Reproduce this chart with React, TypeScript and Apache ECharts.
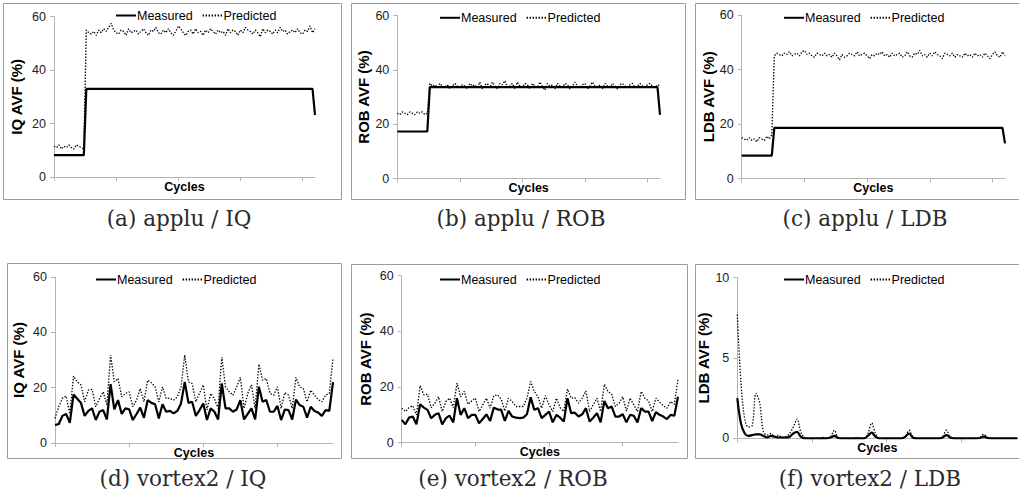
import React, { useEffect, useRef } from "react";
import * as echarts from "echarts";

// ---------- data ----------
const TOP_CYCLES = 106;
const BOTTOM_CYCLES = 76;
const SERIES_NAMES = ["Measured", "Predicted"];
const CAPTIONS = [
  "(a) applu / IQ",
  "(b) applu / ROB",
  "(c) applu / LDB",
  "(d) vortex2 / IQ",
  "(e) vortex2 / ROB",
  "(f) vortex2 / LDB",
];
const Y_NAMES = ["IQ AVF (%)", "ROB AVF (%)", "LDB AVF (%)", "IQ AVF (%)", "ROB AVF (%)", "LDB AVF (%)"];

// applu: measured is a step function, given as [cycle index, value] break points
const appluIQMeasured = [[0, 8.2], [12, 8.2], [13, 33], [104, 33], [105, 23.2]];
const appluIQPredicted = [
  11.5, 11, 12, 10.5, 11.5, 11, 12, 11, 10.5, 12, 11.5, 11, 10.5,
  55, 54, 53.5, 54.5, 53, 55, 54, 55.5, 54.5, 56, 57.5, 55, 54, 53.5, 55, 54.5, 53, 55.5, 54, 54.5,
  55, 53.5, 54.5, 55.5, 54, 53, 55, 54.5, 56, 54, 53.5, 55, 54, 55.5, 54, 53, 54.5, 56.5, 55.5, 54,
  53, 54.5, 55, 53.5, 55.5, 54, 54.5, 53, 55, 54, 55.5, 54.5, 53.5, 55, 54, 54.5, 53, 55.5, 54, 55,
  54.5, 53, 55, 54, 56, 55, 54.5, 53.5, 55, 54, 52.5, 55.5, 54, 55, 54.5, 53.5, 55, 54, 56, 54.5,
  55, 53.5, 54.5, 55, 54, 55.5, 54, 53.5, 55, 54.5, 56.5, 54, 55.5,
];
const appluROBMeasured = [[0, 17.3], [12, 17.3], [13, 33.6], [104, 33.6], [105, 23.4]];
const appluROBPredicted = [
  24, 23.5, 24.5, 24, 23.5, 24.5, 24, 23.5, 24.5, 24, 24.5, 23.5, 24,
  35, 34, 34.5, 33.5, 35, 34, 33.5, 34.5, 33, 34, 35, 34, 33.5, 34.5, 34, 33, 35, 34, 34.5, 33.5,
  35.5, 33, 34.5, 35, 33.5, 35.5, 34, 33, 35, 34.5, 36, 33.5, 34, 35, 33, 35.5, 34, 33.5, 35, 34.5,
  33, 35, 34, 33.5, 35.5, 34, 32.5, 35, 34, 34.5, 33, 35, 34, 33.5, 35, 34.5, 33, 34, 35.5, 34,
  33.5, 34.5, 35, 33, 34, 35.5, 34, 33.5, 34.5, 33, 35, 34, 33.5, 35, 34, 33, 34.5, 35, 34, 33.5,
  34.5, 35, 33.5, 34, 35, 34, 33.5, 34.5, 35, 34, 33.5, 34.5, 34,
];
const appluLDBMeasured = [[0, 8.4], [12, 8.4], [13, 18.6], [104, 18.6], [105, 12.9]];
const appluLDBPredicted = [
  15, 14.5, 14, 15, 14, 14.5, 13.5, 15, 14.5, 14, 15.5, 14.5, 16,
  45, 46, 45.5, 45, 46, 45.5, 46.5, 45, 45.5, 46, 45, 46.5, 47, 45.5, 46, 45, 44.5, 46, 45.5, 45,
  46, 45, 45.5, 44.5, 46, 45, 43.5, 45.5, 44.5, 45, 46, 45.5, 45, 46.5, 45, 45.5, 46, 45, 44, 45.5,
  45, 46, 45.5, 46.5, 45, 45.5, 44.5, 46, 45, 45.5, 46, 44.5, 45, 46.5, 45, 44.5, 46, 45.5, 47, 45,
  45.5, 44.5, 46, 45, 46.5, 45.5, 45, 44, 46, 45.5, 45, 46, 44.5, 45.5, 45, 44.5, 46, 45, 45.5, 44.5,
  46, 45, 45.5, 44.5, 46, 45, 44, 45.5, 46.5, 45, 44.5, 46.5, 45,
];

// vortex2
const vortexIQMeasured = [
  6.5, 6.8, 9.8, 10.5, 7.3, 17.5, 16, 14.5, 9.8, 11.6,
  12.5, 8.3, 11.3, 11.9, 8.5, 21.3, 12.2, 15.5, 10.5, 12.5,
  12.2, 8.3, 10.5, 12.8, 9.1, 15.5, 14.5, 14, 8.9, 14,
  11.3, 11.6, 10.7, 11.6, 14.3, 22.1, 14.5, 14.9, 9.8, 11.9,
  14.3, 8.3, 12.5, 11.3, 8.5, 21.5, 12.5, 12.5, 11.3, 12.1,
  15.5, 8.5, 10.5, 12.5, 8.5, 20.3, 14.9, 15.5, 11.3, 11.3,
  13.4, 8.3, 12.1, 11.9, 8.5, 15.7, 13.7, 13.1, 9.2, 13.1,
  11.6, 11, 9.8, 11.9, 11.6, 22,
];
const vortexIQPredicted = [
  8.9, 13.1, 16.2, 17, 10.5, 24.2, 22.1, 21, 14.9, 19.1,
  19.4, 13.1, 16.1, 18.5, 13.7, 31.8, 22.1, 23.3, 16.7, 17.9,
  18.5, 13.1, 15.5, 19.7, 14.9, 22.7, 21.8, 20.3, 14.9, 20.3,
  16.1, 16.1, 15.5, 16.7, 20.3, 31.8, 22.1, 21.5, 14.9, 18,
  21, 12, 17.9, 16, 12.5, 31, 20.3, 18.5, 17.3, 20.3,
  23.7, 12.5, 17.9, 21, 12.5, 28.5, 22.7, 23.3, 17.9, 17.3,
  20.3, 12.5, 18.2, 17.3, 12.5, 23.7, 20.3, 19.7, 14.9, 19.1,
  17.3, 15.7, 14.9, 17.3, 17.9, 30.8,
];
const vortexROBMeasured = [
  8.2, 6.6, 9.0, 9.4, 6.6, 13.8, 12.6, 11.8, 8.8, 10,
  10.6, 6.6, 8.8, 9.7, 7.3, 16, 10, 12.4, 8.8, 10,
  10, 7, 8.5, 10.2, 7.8, 12.6, 12, 11.8, 7.8, 11.4,
  9.4, 9, 8.8, 9, 10.2, 16.3, 11.8, 12.4, 8.8, 10,
  11.2, 7.3, 10, 9, 7.6, 16, 10.6, 10.8, 9.4, 10.2,
  12.4, 7.6, 9, 10.6, 7.3, 15, 12.4, 13, 9.4, 9.4,
  10.2, 7.3, 10, 9.7, 7.3, 12.4, 11.2, 11.2, 7.8, 11,
  10, 9.4, 8.5, 10, 9.7, 16.5,
];
const vortexROBPredicted = [
  12.4, 11.2, 12.6, 13.3, 10, 20.5, 17.2, 17.4, 12.6, 14.2,
  16.5, 11.2, 14.8, 16, 12.6, 21.4, 16.5, 18.4, 13.8, 15,
  16, 11.2, 13.6, 16, 12.4, 16.9, 17.2, 15.7, 11.4, 16,
  14.8, 13, 13, 13, 16, 22, 18.4, 16.5, 12.4, 16.9,
  13.6, 11.2, 16, 12.6, 11.2, 19.3, 16, 16.2, 14.2, 16,
  18.6, 11.2, 13.6, 16, 11.2, 21, 18.4, 17.4, 13, 14.2,
  16.5, 11.4, 16, 13.6, 11.2, 18.4, 16, 15, 11.2, 16,
  14.6, 13.3, 12.4, 14.8, 13.8, 23,
];
const vortexLDBMeasured = [
  2.5, 0.9, 0.3, 0.15, 0.2, 0.25, 0.25, 0.15, 0.05, 0.15,
  0.1, 0.05, 0.05, 0.05, 0.1, 0.3, 0.4, 0.1, 0, 0,
  0, 0, 0, 0, 0, 0.05, 0.15, 0.02, 0, 0,
  0, 0, 0, 0, 0, 0.15, 0.35, 0.1, 0, 0,
  0, 0, 0, 0, 0, 0.1, 0.3, 0.05, 0, 0,
  0, 0, 0, 0, 0, 0.05, 0.2, 0.05, 0, 0,
  0, 0, 0, 0, 0, 0.02, 0.1, 0.02, 0, 0,
  0, 0, 0, 0, 0, 0,
];
const vortexLDBPredicted = [
  7.7, 3.4, 1.2, 0.7, 0.8, 2.8, 2.2, 0.4, 0.2, 0.3,
  0.1, 0.2, 0.05, 0.1, 0.3, 0.7, 1.2, 0.4, 0.05, 0,
  0, 0, 0, 0.05, 0, 0.1, 0.5, 0.05, 0, 0,
  0, 0, 0.05, 0, 0, 0.3, 0.95, 0.3, 0, 0,
  0, 0, 0, 0, 0, 0.1, 0.5, 0.1, 0, 0,
  0, 0, 0, 0, 0, 0.1, 0.5, 0.1, 0, 0,
  0, 0, 0, 0, 0, 0.05, 0.25, 0.05, 0, 0,
  0, 0, 0, 0, 0, 0,
];

const Y_MAX = [60, 60, 60, 60, 60, 10];
const Y_INTERVAL = [20, 20, 20, 20, 20, 5];

// ---------- layout ----------
const FONT = "'Liberation Sans', Arial, Helvetica, sans-serif";
const AXIS_GRAY = "#b4b4b4";

const GRIDS = [
  { left: 54, top: 16.7, width: 261, height: 160.3 },
  { left: 397.3, top: 15.5, width: 262.7, height: 163 },
  { left: 741.7, top: 15, width: 263.3, height: 163.5 },
  { left: 55, top: 277, width: 278, height: 166 },
  { left: 401.7, top: 275.7, width: 276.3, height: 167 },
  { left: 737.3, top: 277.7, width: 280, height: 160.6 },
];
const Y_NAME_GAPS = [30.5, 24, 25.5, 29.5, 28.5, 21];
const LEGENDS = [
  { left: 115, top: 9 },
  { left: 439, top: 11.3 },
  { left: 783, top: 11.3 },
  { left: 95, top: 273 },
  { left: 439, top: 273 },
  { left: 783, top: 273 },
];
const BOXES = [
  { x: 3.5, y: 3.5, width: 338, height: 196 },
  { x: 351.5, y: 3.5, width: 334, height: 196 },
  { x: 695.5, y: 3.5, width: 340, height: 196 },
  { x: 7.5, y: 263.5, width: 334, height: 195 },
  { x: 351.5, y: 264.5, width: 336, height: 194 },
  { x: 695.5, y: 264.5, width: 340, height: 194 },
];
const CAPTION_POS = [
  [179, 218], [521, 218], [865, 218],
  [183, 478], [513, 478], [870, 478],
];

const PANELS = [
  { measured: appluIQMeasured, predicted: appluIQPredicted, count: TOP_CYCLES, tick: 24, smooth: false },
  { measured: appluROBMeasured, predicted: appluROBPredicted, count: TOP_CYCLES, tick: 24, smooth: false },
  { measured: appluLDBMeasured, predicted: appluLDBPredicted, count: TOP_CYCLES, tick: 24, smooth: false },
  { measured: vortexIQMeasured, predicted: vortexIQPredicted, count: BOTTOM_CYCLES, tick: 19, smooth: false },
  { measured: vortexROBMeasured, predicted: vortexROBPredicted, count: BOTTOM_CYCLES, tick: 19, smooth: false },
  { measured: vortexLDBMeasured, predicted: vortexLDBPredicted, count: BOTTOM_CYCLES, tick: 19, smooth: 0.35 },
];

function cycleCategories(n: number) {
  return Array.from({ length: n }, (_, i) => String(i + 1));
}

function buildOption() {
  const series: any[] = [];
  PANELS.forEach((p, k) => {
    series.push({
      name: SERIES_NAMES[1],
      type: "line",
      xAxisIndex: k,
      yAxisIndex: k,
      data: p.predicted,
      symbol: "none",
      smooth: p.smooth,
      lineStyle: { color: "#000", width: 1.3, type: [1.4, 1.6] },
      itemStyle: { color: "#000" },
      z: 2,
    });
    series.push({
      name: SERIES_NAMES[0],
      type: "line",
      xAxisIndex: k,
      yAxisIndex: k,
      data: p.measured,
      symbol: "none",
      smooth: p.smooth,
      lineStyle: { color: "#000", width: 2.2, type: "solid" },
      itemStyle: { color: "#000" },
      z: 3,
    });
  });

  return {
    animation: false,
    backgroundColor: "#ffffff",
    grid: GRIDS.map((g) => ({ ...g, containLabel: false })),
    legend: LEGENDS.map((l) => ({
      ...l,
      orient: "horizontal",
      padding: 0,
      data: SERIES_NAMES,
      itemWidth: 20,
      itemHeight: 14,
      itemGap: 9,
      selectedMode: false,
      itemStyle: { opacity: 0, borderWidth: 0, color: "rgba(0,0,0,0)" },
      textStyle: { fontFamily: FONT, fontSize: 12.5, color: "#000", padding: [0, 0, 0, -4] },
    })),
    xAxis: PANELS.map((p, k) => ({
      type: "category",
      gridIndex: k,
      data: cycleCategories(p.count),
      boundaryGap: false,
      axisLine: { show: true, lineStyle: { color: AXIS_GRAY, width: 1 } },
      axisTick: { show: true, interval: p.tick, length: 4, lineStyle: { color: AXIS_GRAY } },
      axisLabel: { show: false },
      splitLine: { show: false },
      name: "Cycles",
      nameLocation: "middle",
      nameGap: 3,
      nameTextStyle: {
        fontFamily: FONT,
        fontWeight: "bold",
        fontSize: 12.5,
        color: "#000",
        verticalAlign: "top",
      },
    })),
    yAxis: PANELS.map((p, k) => ({
      type: "value",
      gridIndex: k,
      min: 0,
      max: Y_MAX[k],
      interval: Y_INTERVAL[k],
      axisLine: { show: true, lineStyle: { color: AXIS_GRAY, width: 1 } },
      axisTick: { show: true, length: 4, lineStyle: { color: AXIS_GRAY } },
      axisLabel: { margin: 8, fontFamily: FONT, fontSize: 12.5, color: "#222" },
      splitLine: { show: false },
      name: Y_NAMES[k],
      nameLocation: "middle",
      nameGap: Y_NAME_GAPS[k],
      nameTextStyle: { fontFamily: FONT, fontWeight: "bold", fontSize: 15, color: "#000" },
    })),
    series,
    graphic: [
      ...BOXES.map((b) => ({
        type: "rect",
        silent: true,
        shape: b,
        style: { fill: "none", stroke: "#9c9c9c", lineWidth: 1 },
        z: 0,
      })),
      ...CAPTIONS.map((c, k) => ({
        type: "text",
        silent: true,
        x: CAPTION_POS[k][0],
        y: CAPTION_POS[k][1],
        style: {
          text: c,
          align: "center",
          verticalAlign: "middle",
          fontFamily: "'DejaVu Serif', serif",
          fontSize: 21.5,
          fill: "#2a2a2a",
        },
      })),
    ],
  };
}

export default function App() {
  const ref = useRef<HTMLDivElement | null>(null);
  useEffect(() => {
    if (!ref.current) return;
    const chart = echarts.init(ref.current, undefined, { renderer: "svg" });
    chart.setOption(buildOption() as any);
    return () => chart.dispose();
  }, []);
  return (
    <div
      ref={ref}
      style={{ position: "fixed", left: 0, top: 0, width: 1019, height: 495, background: "#fff" }}
    />
  );
}
